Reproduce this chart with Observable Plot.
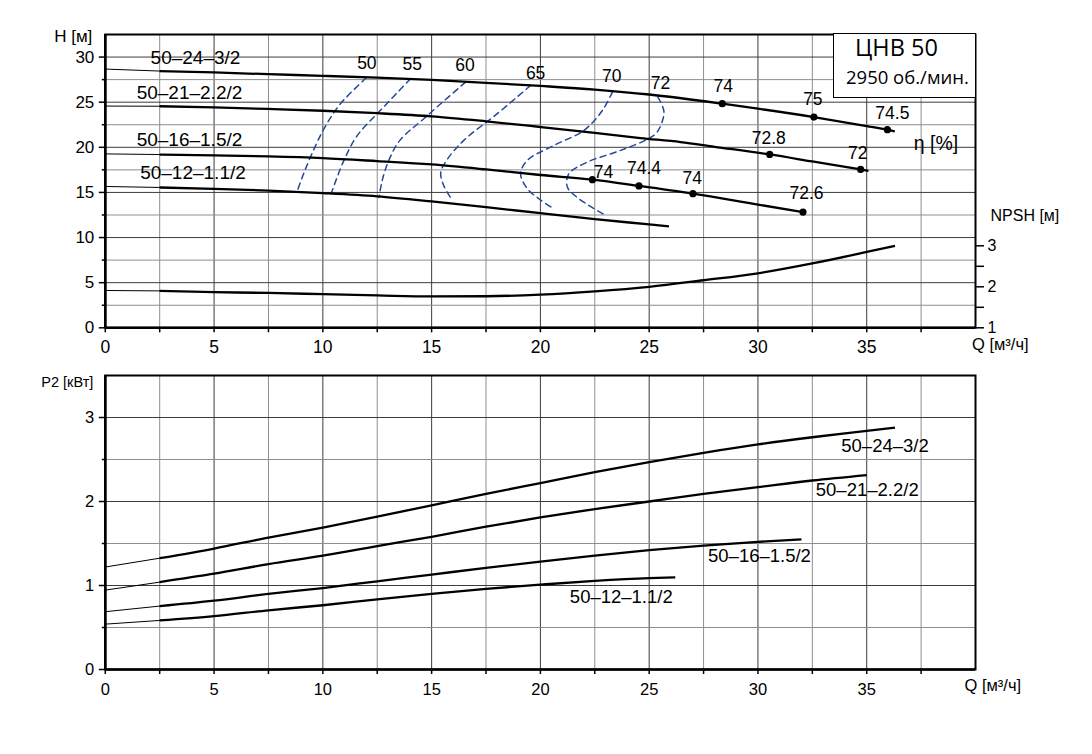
<!DOCTYPE html>
<html><head><meta charset="utf-8">
<script src="https://cdn.jsdelivr.net/npm/d3@7"></script>
<script src="https://cdn.jsdelivr.net/npm/@observablehq/plot@0.6"></script>
<style>
body{margin:0;background:#fff;}
#wrap{position:relative;width:1092px;height:754px;background:#fff;}
#wrap svg{display:block;}
#legend{position:absolute;left:833px;top:33px;width:143px;height:65px;background:#fff;border:1.6px solid #000;box-sizing:border-box;font-family:"Open Sans",sans-serif;color:#000;}
#legend .l1{position:absolute;left:21px;top:1px;font-size:23.5px;line-height:24px;white-space:nowrap;}
#legend .l2{position:absolute;left:12px;top:33px;font-size:18.5px;line-height:19px;white-space:nowrap;}
</style></head><body><div id="wrap"><div id="legend"><div class="l1">ЦНВ 50</div><div class="l2">2950 об./мин.</div></div></div>
<script>
// ---------- data ----------
const models = ["50–24–3/2", "50–21–2.2/2", "50–16–1.5/2", "50–12–1.1/2"];
const qTicks = [0, 5, 10, 15, 20, 25, 30, 35];
const hTicks = [0, 5, 10, 15, 20, 25, 30];
const npshTicks = [1, 1.5, 2, 2.5, 3];
const pTicks = [0, 1, 2, 3];

// H(Q) curves [Q, H]
const head_24_3 = [[0,28.67],[2.5,28.45],[5,28.3],[7.5,28.1],[10,27.92],[12.5,27.72],[15,27.47],[17.5,27.15],[20,26.8],[22.5,26.4],[25,25.85],[28.36,24.83],[30,24.28],[32.57,23.35],[35,22.36],[35.95,21.95],[36.29,21.76]];
const head_21_22 = [[0,24.57],[2.5,24.55],[5,24.42],[7.5,24.25],[10,24.05],[12.5,23.78],[15,23.43],[17.5,22.88],[20,22.25],[22.5,21.6],[24.6,21.02],[26.44,20.58],[28,20.06],[30.54,19.21],[32.5,18.43],[34.72,17.55],[35.08,17.4]];
const head_16_15 = [[0,19.27],[2.5,19.2],[5,19.1],[7.5,18.99],[10,18.8],[12.5,18.47],[15,18.1],[17.5,17.55],[20,16.93],[22.39,16.41],[24.53,15.72],[27.01,14.86],[30,13.65],[32.07,12.82]];
const head_12_11 = [[0,15.66],[2.5,15.55],[5,15.4],[7.5,15.2],[10,14.92],[12.5,14.56],[15,14.0],[17.5,13.37],[20,12.7],[22.5,12.05],[25,11.45],[25.91,11.23]];
const heads = [head_24_3, head_21_22, head_16_15, head_12_11];

// NPSH(Q) [Q, NPSH m]
const npsh = [[0,1.91],[2.5,1.9],[5,1.87],[7.5,1.85],[10,1.82],[12.5,1.79],[15,1.765],[17.5,1.77],[20,1.81],[22.5,1.89],[25,2.0],[27.5,2.16],[30,2.33],[32.5,2.57],[35,2.85],[36.3,3.0]];

// iso-efficiency lines [Q, H]
const effLevels = ["50", "55", "60", "65", "70", "72"];
const eff50 = [[12.0,27.7],[10.8,24.8],[10.05,22.05],[9.5,19.3],[9.12,17.1],[8.8,15.0]];
const eff55 = [[14.03,27.6],[12.65,24.1],[11.58,21.3],[10.97,18.55],[10.55,16.0],[10.38,14.85]];
const eff60 = [[16.56,27.23],[14.64,23.17],[13.54,20.77],[13.03,18.55],[12.73,16.33],[12.58,14.45]];
const eff65 = [[19.55,26.86],[18.02,23.73],[16.48,20.77],[15.7,18.6],[15.42,17.2],[15.55,15.8],[15.86,14.48]];
const eff70 = [[23.31,26.12],[22.85,24.09],[22.0,21.87],[20.62,20.21],[19.4,18.55],[19.09,17.07],[19.4,15.41],[19.93,14.3],[20.62,13.19]];
const eff72 = [[25.4,25.57],[25.68,23.9],[25.37,21.69],[25.0,21.0],[23.69,19.66],[22.16,18.36],[21.31,17.07],[21.24,15.59],[21.77,14.3],[23.0,12.45]];
const effCurves = [eff50, eff55, eff60, eff65, eff70, eff72];

// efficiency points on H curves [Q, H, η]
const effPoints = [[28.36,24.83,"74"],[32.57,23.35,"75"],[35.95,21.95,"74.5"],[30.54,19.21,"72.8"],[34.72,17.55,"72"],[22.39,16.41,"74"],[24.53,15.72,"74.4"],[27.01,14.86,"74"],[32.07,12.82,"72.6"]];

// P2(Q) curves [Q, kW]
const power_24_3 = [[0,1.22],[2.5,1.325],[5,1.44],[7.5,1.57],[10,1.69],[12.5,1.82],[15,1.955],[17.5,2.09],[20,2.22],[22.5,2.35],[25,2.47],[27.5,2.58],[30,2.68],[32.5,2.765],[35,2.84],[36.3,2.88]];
const power_21_22 = [[0,0.945],[2.5,1.04],[5,1.14],[7.5,1.255],[10,1.355],[12.5,1.47],[15,1.58],[17.5,1.7],[20,1.81],[22.5,1.91],[25,2.0],[27.5,2.09],[30,2.17],[32.5,2.25],[35,2.315]];
const power_16_15 = [[0,0.688],[2.5,0.755],[5,0.82],[7.5,0.9],[10,0.97],[12.5,1.05],[15,1.13],[17.5,1.21],[20,1.285],[22.5,1.355],[25,1.42],[27.5,1.475],[30,1.52],[32,1.548]];
const power_12_11 = [[0,0.54],[2.5,0.584],[5,0.635],[7.5,0.705],[10,0.765],[12.5,0.835],[15,0.9],[17.5,0.96],[20,1.01],[22.5,1.055],[25,1.088],[26.2,1.097]];
const powers = [power_24_3, power_21_22, power_16_15, power_12_11];

// ---------- styling / layout (not data) ----------
const FONT = "'Liberation Sans', Arial, sans-serif";
const BLUE = "#24489a";
const GRID_MAJ = "#3c3c3c", GRID_MIN = "#8e8e8e";
const THICK = 2.3, THIN = 1;
const ML = 104.8, MR = 117;
const H_PX = (327.3 - 34) / 32.5;           // px per metre of head
const K = 41 / H_PX;                          // NPSH metre -> head-scale metre
const nToH = n => (n - 1) * K;
const hToN = h => Math.round((h / K + 1) * 10) / 10;
const headLabelOff = [[-18.6,-14.4],[-24.6,-14.6],[-24.6,-15.6],[-21.1,-15.7]];
const effLabelOff = [[1,-17],[-1,-18],[5,-16],[-1,-16],[-3,-16.5],[11,-7],[5,-18],[-0.6,-15.5],[3.5,-19]];
const isoLabelOff = [[0.5,-14],[1.7,-14],[-0.5,-16.7],[5,-12.4],[-0.7,-15.7],[2.7,-14]];
const powerLabelOff = [[-10,18],[0.5,15.5],[-42,16.5],[-54,19.5]];

const X = d => d[0], Y = d => d[1];
const qMajor = d3.range(5, 40, 5), qMinor = d3.range(2.5, 40, 5);

function curvePair(data, yFn, extra = {}) {
  return [
    Plot.line(data.filter(d => d[0] <= 2.5), {x: X, y: yFn, stroke: "black", strokeWidth: THIN, curve: "monotone-x", ...extra}),
    Plot.line(data.filter(d => d[0] >= 2.5), {x: X, y: yFn, stroke: "black", strokeWidth: THICK, curve: "monotone-x", strokeLinecap: "butt", ...extra})
  ];
}

const hMajor = d3.range(5, 31, 5), hMinor = d3.range(2.5, 31, 5);

const topPlot = Plot.plot({
  width: 1092, height: 360,
  marginLeft: ML, marginRight: MR, marginTop: 34, marginBottom: 32.7,
  x: {domain: [0, 40]},
  y: {domain: [0, 32.5]},
  style: {fontFamily: FONT, fontSize: "17px", color: "black", background: "white", overflow: "visible"},
  marks: [
    Plot.ruleX(qMinor, {stroke: GRID_MIN, strokeWidth: 1, ariaLabel: "grid"}),
    Plot.ruleX(qMajor, {stroke: GRID_MAJ, strokeWidth: 1, ariaLabel: "grid"}),
    Plot.ruleY(hMinor, {stroke: GRID_MIN, strokeWidth: 1, ariaLabel: "grid"}),
    Plot.ruleY(hMajor, {stroke: GRID_MAJ, strokeWidth: 1, ariaLabel: "grid"}),
    ...effCurves.map(c => Plot.line(c, {x: X, y: Y, curve: "catmull-rom", stroke: BLUE, strokeWidth: 1.5, strokeDasharray: "6,4.5"})),
    ...heads.flatMap(c => curvePair(c, Y)),
    ...curvePair(npsh, d => nToH(d[1])),
    Plot.dot(effPoints, {x: X, y: Y, r: 3.6, fill: "black"}),
    Plot.frame({stroke: "black", strokeWidth: 2}),
    Plot.ruleX([0], {stroke: "black", strokeWidth: 2.6}),
    Plot.ruleY([0], {stroke: "black", strokeWidth: 2.6}),
    Plot.axisX(d3.range(0, 40, 2.5), {anchor: "bottom", tickSize: 5, tickPadding: 8, strokeWidth: 1.5, fontSize: 17.5, label: null, tickFormat: d => d % 5 === 0 ? String(d) : ""}),
    Plot.axisY(hTicks, {anchor: "left", tickSize: 6, tickPadding: 5, strokeWidth: 1.5, fontSize: 17, label: null}),
    Plot.axisY(hMinor, {anchor: "left", tickSize: 3, strokeWidth: 1.5, label: null, tickFormat: () => ""}),
    Plot.axisY(npshTicks.map(nToH), {anchor: "right", tickSize: 8, tickPadding: 4, strokeWidth: 1.5, fontSize: 16, label: null, tickFormat: h => { const n = hToN(h); return n % 1 === 0 ? String(n) : ""; }}),
    // curve names
    ...heads.map((c, i) => Plot.text([c[2]], {x: X, y: Y, text: () => models[i], dx: headLabelOff[i][0], dy: headLabelOff[i][1], fontSize: 19, ariaLabel: "boxModel"})),
    // iso-efficiency labels
    ...effCurves.map((c, i) => Plot.text([c[0]], {x: X, y: Y, text: () => effLevels[i], dx: isoLabelOff[i][0], dy: isoLabelOff[i][1], fontSize: 17.5, ariaLabel: "boxEff"})),
    // efficiency point labels
    ...effPoints.map((p, i) => Plot.text([p], {x: X, y: Y, text: d => d[2], dx: effLabelOff[i][0], dy: effLabelOff[i][1], fontSize: 17.5, ariaLabel: "boxEff"})),
    Plot.text(["η [%]"], {frameAnchor: "top-right", textAnchor: "middle", dx: -39.5, dy: 102, fontSize: 19.5, ariaLabel: "boxEta"}),
    Plot.text(["H [м]"], {frameAnchor: "top-left", textAnchor: "end", dx: -13, dy: -5, fontSize: 17}),
    Plot.text(["Q [м³/ч]"], {frameAnchor: "bottom-right", textAnchor: "start", dx: -3.5, dy: 22.5, fontSize: 16.5}),
    Plot.text(["NPSH [м]"], {frameAnchor: "bottom-right", textAnchor: "start", dx: 15, dy: -107, fontSize: 16})
  ]
});

const pMajor = [1, 2, 3], pMinor = [0.5, 1.5, 2.5];
const bottomPlot = Plot.plot({
  width: 1092, height: 394,
  marginLeft: ML, marginRight: MR, marginTop: 15, marginBottom: 85,
  x: {domain: [0, 40]},
  y: {domain: [0, 3.5]},
  style: {fontFamily: FONT, fontSize: "16px", color: "black", background: "white", overflow: "visible"},
  marks: [
    Plot.ruleX(qMinor, {stroke: GRID_MIN, strokeWidth: 1, ariaLabel: "grid"}),
    Plot.ruleX(qMajor, {stroke: GRID_MAJ, strokeWidth: 1, ariaLabel: "grid"}),
    Plot.ruleY(pMinor, {stroke: GRID_MIN, strokeWidth: 1, ariaLabel: "grid"}),
    Plot.ruleY(pMajor, {stroke: GRID_MAJ, strokeWidth: 1, ariaLabel: "grid"}),
    ...powers.flatMap(c => curvePair(c, Y)),
    Plot.frame({stroke: "black", strokeWidth: 2}),
    Plot.ruleX([0], {stroke: "black", strokeWidth: 2.6}),
    Plot.ruleY([0], {stroke: "black", strokeWidth: 2.6}),
    Plot.axisX(d3.range(0, 40, 2.5), {anchor: "bottom", tickSize: 5, tickPadding: 9, strokeWidth: 1.5, fontSize: 16.5, label: null, tickFormat: d => d % 5 === 0 ? String(d) : ""}),
    Plot.axisY(pTicks, {anchor: "left", tickSize: 6, tickPadding: 5, strokeWidth: 1.5, fontSize: 16.5, label: null, tickFormat: d => String(d)}),
    Plot.axisY(pMinor, {anchor: "left", tickSize: 3, strokeWidth: 1.5, label: null, tickFormat: () => ""}),
    ...powers.map((c, i) => Plot.text([c[c.length - 1]], {x: X, y: Y, text: () => models[i], dx: powerLabelOff[i][0], dy: powerLabelOff[i][1], fontSize: 18.5, ariaLabel: "boxPower"})),
    Plot.text(["P2 [кВт]"], {frameAnchor: "top-left", textAnchor: "end", dx: -12, dy: 1, fontSize: 14.5}),
    Plot.text(["Q [м³/ч]"], {frameAnchor: "bottom-right", textAnchor: "start", dx: -11, dy: 21, fontSize: 16.5})
  ]
});

const wrap = document.getElementById("wrap");
wrap.insertBefore(topPlot, wrap.firstChild);
wrap.insertBefore(bottomPlot, topPlot.nextSibling);

// white boxes behind labels (above the grid, below the curves)
function addBoxes(svg, specs) {
  const ns = "http://www.w3.org/2000/svg";
  const sr = svg.getBoundingClientRect();
  const grids = svg.querySelectorAll('g[aria-label="grid"]');
  const anchor = grids[grids.length - 1];
  const g = document.createElementNS(ns, "g");
  for (const [name, padX, padY] of specs) {
    svg.querySelectorAll(`g[aria-label="${name}"] text`).forEach(t => {
      const r = t.getBoundingClientRect();
      const rect = document.createElementNS(ns, "rect");
      rect.setAttribute("x", r.left - sr.left - padX);
      rect.setAttribute("y", r.top - sr.top - padY);
      rect.setAttribute("width", r.width + 2 * padX);
      rect.setAttribute("height", r.height + 2 * padY);
      rect.setAttribute("fill", "white");
      g.appendChild(rect);
    });
  }
  if (anchor) anchor.after(g);
}
addBoxes(topPlot, [["boxModel", 14, -1], ["boxEff", 5, -2], ["boxEta", 8, 0]]);
addBoxes(bottomPlot, [["boxPower", 5, -1]]);
</script>
</body></html>
